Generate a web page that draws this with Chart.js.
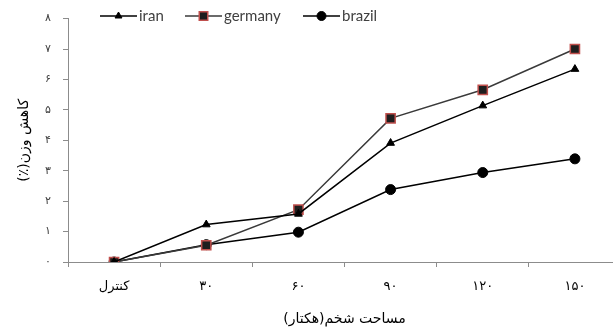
<!DOCTYPE html>
<html>
<head>
<meta charset="utf-8">
<script src="https://cdn.jsdelivr.net/npm/chart.js@4.4.1/dist/chart.umd.min.js"></script>
<style>
  body { margin: 0; background: #fff; overflow: hidden; }
  canvas { display: block; }
</style>
</head>
<body>
<!-- the original plot runs a little past the right edge of the picture -->
<canvas id="lineChart" width="621" height="334"></canvas>
<script>
// data
const categories = ['کنترل', '۳۰', '۶۰', '۹۰', '۱۲۰', '۱۵۰'];
const yTickLabels = ['۰', '۱', '۲', '۳', '۴', '۵', '۶', '۷', '۸'];
const seriesNames = ['iran', 'germany', 'brazil'];
const iranValues = [0, 1.23, 1.58, 3.91, 5.14, 6.34];
const germanyValues = [0, 0.55, 1.72, 4.72, 5.66, 7.0];
const brazilValues = [0, 0.57, 0.98, 2.38, 2.94, 3.39];

const axisColor = '#8c8c8c';
const textColor = '#404040';
const persianFont = "'DejaVu Sans', sans-serif";
const RLM = '\u200F';

// legend drawn at the top-left over the plot, line + marker + name
const topLegend = {
  id: 'topLegend',
  afterDraw(chart) {
    const ctx = chart.ctx;
    const starts = [100, 185, 303];
    const y = 16;
    ctx.save();
    chart.data.datasets.forEach((ds, i) => {
      const x = starts[i];
      ctx.strokeStyle = ds.borderColor;
      ctx.lineWidth = 1.5;
      ctx.beginPath();
      ctx.moveTo(x, y);
      ctx.lineTo(x + 37, y);
      ctx.stroke();
      ctx.fillStyle = ds.pointBackgroundColor;
      ctx.strokeStyle = ds.pointBorderColor;
      ctx.lineWidth = ds.pointBorderWidth;
      Chart.helpers.drawPoint(ctx, {
        pointStyle: ds.pointStyle,
        radius: ds.pointRadius - 0.5,
        borderWidth: ds.pointBorderWidth,
        rotation: 0
      }, x + 18.5, y);
      ctx.fillStyle = textColor;
      ctx.font = "15px Lato, 'Open Sans', sans-serif";
      ctx.textAlign = 'left';
      ctx.textBaseline = 'middle';
      ctx.fillText(ds.label, x + 39, y);
    });
    ctx.restore();
  }
};

const ctx = document.getElementById('lineChart').getContext('2d');
const lineChart = new Chart(ctx, {
  type: 'line',
  data: {
    labels: categories,
    datasets: [
      {
        label: seriesNames[0],
        data: iranValues,
        borderColor: '#000000',
        borderWidth: 1.5,
        pointStyle: 'triangle',
        pointRadius: 4.5,
        pointBackgroundColor: '#000000',
        pointBorderColor: '#000000',
        pointBorderWidth: 1
      },
      {
        label: seriesNames[1],
        data: germanyValues,
        borderColor: '#3a3a3a',
        borderWidth: 1.5,
        pointStyle: 'rect',
        pointRadius: 6.5,
        pointBackgroundColor: '#1e1e1e',
        pointBorderColor: '#c0504d',
        pointBorderWidth: 1.5
      },
      {
        label: seriesNames[2],
        data: brazilValues,
        borderColor: '#000000',
        borderWidth: 1.5,
        pointStyle: 'circle',
        pointRadius: 5,
        pointBackgroundColor: '#000000',
        pointBorderColor: '#000000',
        pointBorderWidth: 1
      }
    ]
  },
  options: {
    responsive: false,
    animation: false,
    layout: { autoPadding: false, padding: { top: 17, right: 0, left: 0, bottom: 0 } },
    plugins: {
      legend: { display: false },
      tooltip: { enabled: false }
    },
    scales: {
      x: {
        offset: true,
        grid: { display: true, drawOnChartArea: false, offset: true, tickLength: 5, color: axisColor },
        border: { display: true, color: axisColor, width: 1 },
        ticks: { color: '#000', font: { family: persianFont, size: 13 }, padding: 12, maxRotation: 0 },
        title: {
          display: true,
          text: RLM + 'مساحت شخم(هکتار)' + RLM,
          color: '#000',
          font: { family: persianFont, size: 14 },
          padding: { top: 3, bottom: 6 }
        },
        afterFit(scale) {
          scale.height = 72;
          scale.paddingLeft = 0;
          scale.paddingRight = 0;
        }
      },
      y: {
        min: 0,
        max: 8,
        grid: { display: true, drawOnChartArea: false, tickLength: 5, color: axisColor },
        border: { display: true, color: axisColor, width: 1 },
        ticks: {
          stepSize: 1,
          color: textColor,
          padding: 12,
          font: { family: persianFont, size: 11 },
          callback: (value) => yTickLabels[value]
        },
        title: {
          display: true,
          text: RLM + 'کاهش وزن(٪)' + RLM,
          color: '#000',
          font: { family: persianFont, size: 14 },
          padding: { top: 16, bottom: 0 }
        },
        afterFit(scale) { scale.width = 68; }
      }
    }
  },
  plugins: [topLegend]
});
</script>
</body>
</html>
